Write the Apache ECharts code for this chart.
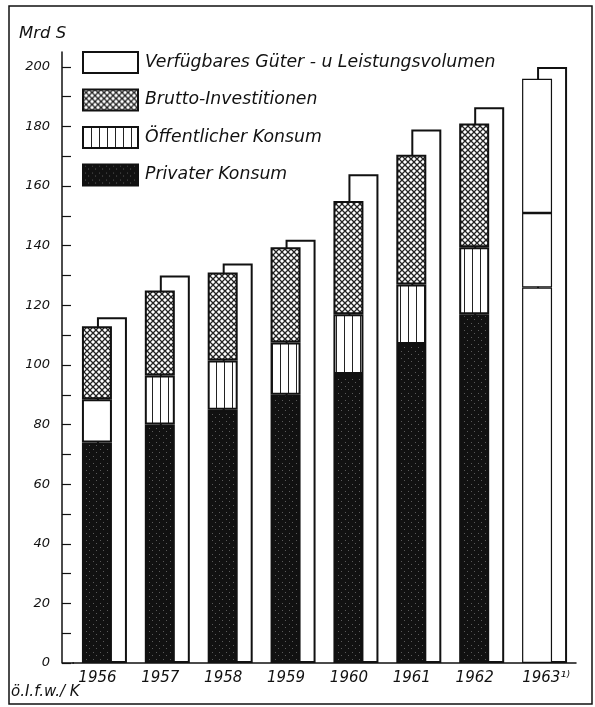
<!DOCTYPE html>
<html>
<head>
<meta charset="utf-8">
<script src="https://cdn.jsdelivr.net/npm/echarts@6/dist/echarts.min.js"></script>
<style>
  html, body { margin: 0; padding: 0; background: #fff; }
  #main { width: 595px; height: 707px; }
</style>
</head>
<body>
<div id="main"></div>
<script>
// Jahre, 1963 = Schätzung (nur Umriss)
var jahre = ['1956', '1957', '1958', '1959', '1960', '1961', '1962', '1963¹⁾']
var schaetzung = [false, false, false, false, false, false, false, true]
// Mrd S
var privaterKonsum = [74, 80, 85, 90, 97, 107, 117, 126]
var oeffentlicherKonsum = [14.5, 16.5, 16.5, 17.5, 20, 20, 22.5, 25]
var bruttoInvestitionen = [24.5, 28.5, 29.5, 32, 38, 43.5, 41.5, 45]
var verfuegbar = [116, 130, 134, 142, 164, 179, 186.5, 200]
var yLabels = [0, 20, 40, 60, 80, 100, 120, 140, 160, 180, 200]
var yTicks = [0, 10, 20, 30, 40, 50, 60, 70, 80, 90, 100, 110, 120, 130, 140, 150, 160, 170, 180, 190, 200]

var ink = '#111'
var font = 'DejaVu Sans'

// Muster fuer die Flaechen
function muster(w, h, draw) {
    var c = document.createElement('canvas')
    c.width = w
    c.height = h
    var ctx = c.getContext('2d')
    draw(ctx)
    return { image: c, repeat: 'repeat' }
}

var senkrecht = muster(8, 8, function (ctx) {
    ctx.fillStyle = '#fff'
    ctx.fillRect(0, 0, 8, 8)
    ctx.fillStyle = '#222'
    ctx.fillRect(0, 0, 1, 8)
})

var kreuz = muster(6, 6, function (ctx) {
    ctx.fillStyle = '#fff'
    ctx.fillRect(0, 0, 6, 6)
    ctx.strokeStyle = '#222'
    ctx.lineWidth = 1.3
    ctx.beginPath()
    ctx.moveTo(-1, -1); ctx.lineTo(7, 7)
    ctx.moveTo(7, -1); ctx.lineTo(-1, 7)
    ctx.stroke()
})

var punkte = muster(7, 7, function (ctx) {
    ctx.fillStyle = '#111'
    ctx.fillRect(0, 0, 7, 7)
    ctx.fillStyle = '#5a5a5a'
    ctx.fillRect(2, 1, 1, 1)
    ctx.fillRect(5, 4, 1, 1)
})

function teil(werte, weiss) {
    return werte.map(function (v, i) {
        if (schaetzung[i]) return { value: v, itemStyle: { color: '#fff', borderWidth: 1.2 } }
        if (weiss && weiss[i]) return { value: v, itemStyle: { color: '#fff' } }
        return v
    })
}

var myChart = echarts.init(document.getElementById('main'))
option = {
    animation: false,
    backgroundColor: '#fff',
    title: {
        text: 'Mrd S',
        left: 14,
        top: 20,
        textStyle: { fontFamily: font, fontStyle: 'italic', fontWeight: 'normal', fontSize: 16.5, color: ink }
    },
    legend: {
        orient: 'vertical',
        left: 82,
        top: 51,
        padding: 0,
        icon: 'rect',
        itemWidth: 55,
        itemHeight: 21,
        itemGap: 14.5,
        selectedMode: false,
        data: ['Verfügbares Güter - u Leistungsvolumen', 'Brutto-Investitionen', 'Öffentlicher Konsum', 'Privater Konsum'],
        textStyle: { fontFamily: font, fontStyle: 'italic', fontSize: 17.3, color: ink, padding: [0, 0, 0, 2] }
    },
    grid: {
        left: 73,
        right: 19,
        top: 52,
        bottom: 44
    },
    xAxis: {
        type: 'category',
        data: jahre.map(function (j, i) {
            return schaetzung[i] ? { value: j, textStyle: { padding: [0, 0, 0, 3] } } : j
        }),
        axisLine: { lineStyle: { color: ink, width: 1.5 } },
        axisTick: { show: false },
        axisLabel: {
            fontFamily: font, fontStyle: 'italic', fontSize: 15, color: ink, margin: 8,
            padding: [0, 14, 0, 0]
        }
    },
    yAxis: {
        type: 'value',
        min: 0,
        max: 205,
        interval: 10,
        offset: 11,
        splitLine: { show: false },
        axisLine: { show: true, lineStyle: { color: ink, width: 1.5 } },
        axisTick: { show: true, inside: true, length: 9, customValues: yTicks, lineStyle: { color: ink, width: 1.2 } },
        axisLabel: {
            customValues: yLabels,
            fontFamily: font, fontStyle: 'italic', fontSize: 13, color: ink, margin: 12
        }
    },
    series: [
        {
            name: 'Privater Konsum',
            type: 'bar',
            stack: 'verwendung',
            barWidth: 30,
            barGap: '-50%',
            z: 3,
            itemStyle: { color: punkte, borderColor: ink, borderWidth: 2 },
            data: teil(privaterKonsum)
        },
        {
            name: 'Öffentlicher Konsum',
            type: 'bar',
            stack: 'verwendung',
            barWidth: 30,
            z: 3,
            itemStyle: { color: senkrecht, borderColor: ink, borderWidth: 2 },
            // 1956 ohne Schraffur
            data: teil(oeffentlicherKonsum, [true])
        },
        {
            name: 'Brutto-Investitionen',
            type: 'bar',
            stack: 'verwendung',
            barWidth: 30,
            z: 3,
            itemStyle: { color: kreuz, borderColor: ink, borderWidth: 2 },
            data: teil(bruttoInvestitionen)
        },
        {
            name: 'Verfügbares Güter - u Leistungsvolumen',
            type: 'bar',
            barWidth: 30,
            barGap: '-50%',
            z: 1,
            itemStyle: { color: '#fff', borderColor: ink, borderWidth: 2 },
            data: verfuegbar
        }
    ],
    graphic: [
        {
            type: 'rect',
            shape: { x: 9, y: 6, width: 583, height: 698 },
            style: { fill: 'none', stroke: ink, lineWidth: 1.5 },
            silent: true
        },
        {
            type: 'line',
            shape: { x1: 62, y1: 663, x2: 74, y2: 663 },
            style: { stroke: ink, lineWidth: 1.5 },
            silent: true
        },
        {
            type: 'text',
            left: 11,
            top: 685,
            style: { text: 'ö.I.f.w./ K', fontFamily: font, fontStyle: 'italic', fontSize: 15, fill: ink }
        }
    ]
};
myChart.setOption(option)
</script>
</body>
</html>
